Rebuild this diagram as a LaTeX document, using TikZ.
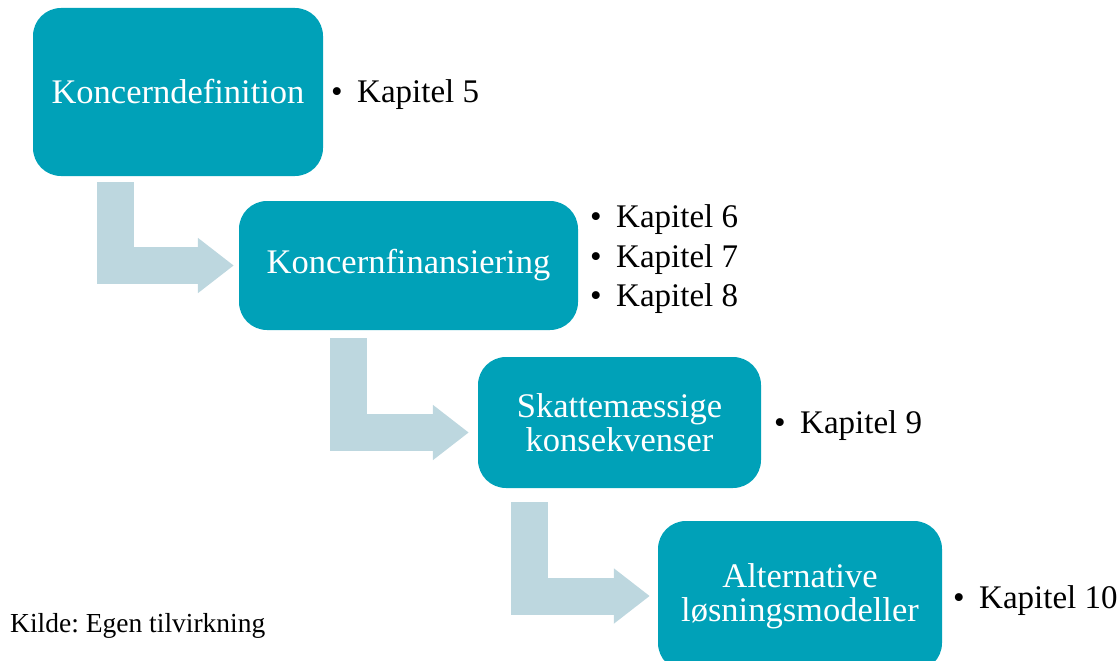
\documentclass[tikz,border=0pt]{standalone}
\usepackage{fontspec}
\setmainfont{Liberation Serif}
\usetikzlibrary{arrows.meta,calc}
\definecolor{boxteal}{HTML}{00A1B8}
\definecolor{arrowblue}{HTML}{BDD7DF}
\tikzset{
  stepbox/.style={rectangle, rounded corners=28pt, fill=boxteal, draw=none,
    text=white, align=center, font=\fontsize{34.5}{34}\selectfont, inner sep=0pt},
  flow/.style={draw=arrowblue, line width=37pt, line join=miter,
    -{Triangle[width=53pt,length=36pt]}},
  item/.style={anchor=base west, inner sep=0pt, font=\fontsize{33}{34}\selectfont},
  srcnote/.style={anchor=base west, inner sep=0pt, font=\fontsize{27.5}{28}\selectfont\frenchspacing}
}
\begin{document}
\begin{tikzpicture}[x=1pt,y=-1pt]
\useasboundingbox (0,0) rectangle (1119,661);
\node[stepbox, minimum width=290pt, minimum height=168pt] (b1) at (178,92) {Koncerndefinition};
\node[stepbox, minimum width=339pt, minimum height=129pt] (b2) at (408.5,265.5) {Koncernfinansiering};
\node[stepbox, minimum width=283pt, minimum height=131pt] (b3) at (619.5,422.5) {Skattemæssige\\konsekvenser};
\node[stepbox, minimum width=284pt, minimum height=150pt] (b4) at (800,596) {Alternative\\løsningsmodeller};

\coordinate (a1) at ($(b1.south west)+(82.5,6)$);
\coordinate (a2) at ($(b2.south west)+(109.5,8)$);
\coordinate (a3) at ($(b3.south west)+(51.5,14)$);
\coordinate (t1) at ($(b2.west)+(-5,0)$);
\coordinate (t2) at ($(b3.west)+(-9,10)$);
\coordinate (t3) at ($(b4.west)+(-8,0)$);
\draw[flow] (a1) |- (t1);
\draw[flow] (a2) |- (t2);
\draw[flow] (a3) |- (t3);

\node[item] (k5) at (331,102) {\makebox[26pt][l]{•}Kapitel 5};
\node[item] (k6) at (590,227) {\makebox[26pt][l]{•}Kapitel 6};
\node[item] (k7) at (590,267) {\makebox[26pt][l]{•}Kapitel 7};
\node[item] (k8) at (590,306) {\makebox[26pt][l]{•}Kapitel 8};
\node[item] (k9) at (774,433) {\makebox[26pt][l]{•}Kapitel 9};
\node[item] (k10) at (953,608) {\makebox[26pt][l]{•}Kapitel 10};
\node[srcnote] (src) at (10,632) {Kilde: Egen tilvirkning};
\end{tikzpicture}
\end{document}
